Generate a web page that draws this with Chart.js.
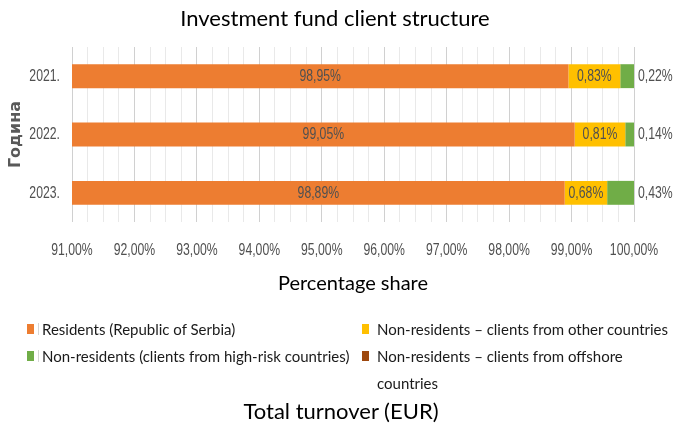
<!DOCTYPE html>
<html lang="en">
<head>
  <meta charset="UTF-8" />
  <title>Investment fund client structure</title>
  <script src="https://cdn.jsdelivr.net/npm/chart.js"></script>
  <style>
    body {
      margin: 0;
      background: #fff;
    }

    .wrap {
      position: relative;
      width: 676px;
      height: 425px;
      font-family: Lato, 'Open Sans', sans-serif;
      color: #000;
    }

    .wrap canvas {
      position: absolute;
      left: 0;
      top: 0;
    }

    .title {
      position: absolute;
      left: 0;
      top: 4px;
      width: 670px;
      line-height: 28px;
      font-size: 22px;
      text-align: center;
    }

    .legend {
      position: absolute;
      left: 27px;
      top: 316px;
      display: grid;
      grid-template-columns: 335px 312px;
      font-size: 15px;
      line-height: 27px;
      color: #1a1a1a;
    }

    .legend .item {
      display: flex;
      align-items: flex-start;
    }

    .legend .item i {
      flex: none;
      position: relative;
      width: 7px;
      height: 10px;
      margin: 8px 8px 0 0;
    }

    /* thin separator after the left column swatches */
    .legend .item:nth-child(odd) i::after {
      content: '';
      position: absolute;
      left: 11px;
      top: -1px;
      width: 1px;
      height: 12px;
      background: #d6d6d6;
    }

    .footer {
      position: absolute;
      left: 0;
      top: 397px;
      width: 682px;
      line-height: 28px;
      font-size: 22px;
      text-align: center;
    }
  </style>
</head>
<body>
  <div class="wrap">
    <canvas id="clientChart" width="676" height="425"></canvas>
    <div class="title">Investment fund client structure</div>
    <div class="legend" id="legend"></div>
    <div class="footer">Total turnover (EUR)</div>
  </div>

  <script>
    // share of clients per year, in percent
    const years = ['2021.', '2022.', '2023.'];
    const residents = [98.95, 99.05, 98.89];
    const otherCountries = [0.83, 0.81, 0.68];
    const highRisk = [0.22, 0.14, 0.43];
    const offshore = [0, 0, 0];

    const seriesNames = [
      'Residents (Republic of Serbia)',
      'Non-residents – clients from other countries',
      'Non-residents (clients from high-risk countries)',
      'Non-residents – clients from offshore countries'
    ];
    const seriesColors = ['#ED7D31', '#FFC000', '#70AD47', '#9E480E'];

    const axisMin = 91;
    const axisMax = 100;
    const gridStep = 0.25;

    const textGray = '#505050';
    const labelFont = '17px "Liberation Sans", Arial, sans-serif';

    function isWhole(v) {
      return Math.abs(v - Math.round(v)) < 1e-6;
    }

    function pct(v) {
      return v.toFixed(2).replace('.', ',') + '%';
    }

    // squeezed text, the numbers on this chart are set in a narrow face
    function narrowText(ctx, text, x, y, align) {
      ctx.save();
      ctx.translate(x, y);
      ctx.scale(0.72, 1);
      ctx.textAlign = align;
      ctx.fillText(text, 0, 0);
      ctx.restore();
    }

    document.getElementById('legend').innerHTML = seriesNames.map((name, i) =>
      `<div class="item"><i style="background:${seriesColors[i]}"></i><span>${name}</span></div>`
    ).join('');

    // tick labels for both axes and the value labels on the bars
    const numberLabels = {
      id: 'numberLabels',
      afterDatasetsDraw(chart) {
        const { ctx, chartArea, scales } = chart;
        ctx.save();
        ctx.font = labelFont;
        ctx.fillStyle = textGray;
        ctx.textBaseline = 'middle';

        scales.x.ticks.forEach(t => {
          if (!isWhole(t.value)) return;
          narrowText(ctx, pct(t.value), scales.x.getPixelForValue(t.value), chartArea.bottom + 28, 'center');
        });

        scales.y.ticks.forEach((t, i) => {
          narrowText(ctx, chart.data.labels[i], chartArea.left - 12, scales.y.getPixelForTick(i), 'right');
        });

        chart.data.datasets.forEach((ds, i) => {
          chart.getDatasetMeta(i).data.forEach((bar, j) => {
            const v = ds.data[j];
            if (!v) return;
            const { x, y, base } = bar.getProps(['x', 'y', 'base'], true);
            if (i === 2) {
              narrowText(ctx, pct(v), chartArea.right + 4, y, 'left');
            } else {
              const left = Math.max(base, chartArea.left);
              narrowText(ctx, pct(v), (left + x) / 2, y, 'center');
            }
          });
        });
        ctx.restore();
      }
    };

    const datasets = [residents, otherCountries, highRisk, offshore].map((data, i) => ({
      label: seriesNames[i],
      data: data,
      backgroundColor: seriesColors[i],
      borderWidth: 0,
      barPercentage: 0.41,
      categoryPercentage: 1
    }));

    new Chart(document.getElementById('clientChart'), {
      type: 'bar',
      data: { labels: years, datasets: datasets },
      options: {
        indexAxis: 'y',
        responsive: false,
        animation: false,
        layout: { padding: { top: 47, right: 42, bottom: 129, left: 0 } },
        plugins: {
          legend: { display: false },
          tooltip: { enabled: false }
        },
        scales: {
          x: {
            stacked: true,
            min: axisMin,
            max: axisMax,
            afterFit: s => {
              s.height = 74;
              s.paddingLeft = 0;
              s.paddingRight = 0;
            },
            ticks: {
              display: false,
              stepSize: gridStep,
              autoSkip: false,
              maxRotation: 0
            },
            grid: {
              drawTicks: false,
              color: c => isWhole(c.tick.value) ? '#d0d0d0' : '#e9e9e9'
            },
            border: { display: false },
            title: {
              display: true,
              text: 'Percentage share',
              color: '#000',
              font: { family: 'Lato, "Open Sans", sans-serif', size: 20 },
              padding: { top: 16, bottom: 0 }
            }
          },
          y: {
            stacked: true,
            afterFit: s => { s.width = 72; },
            grid: { display: false },
            border: { display: false },
            ticks: { display: false },
            title: {
              display: true,
              text: 'Година',
              color: '#595959',
              font: { family: '"DejaVu Sans", sans-serif', size: 16, weight: 'bold' },
              padding: { top: 6, bottom: 0 }
            }
          }
        }
      },
      plugins: [numberLabels]
    });
  </script>
</body>
</html>
